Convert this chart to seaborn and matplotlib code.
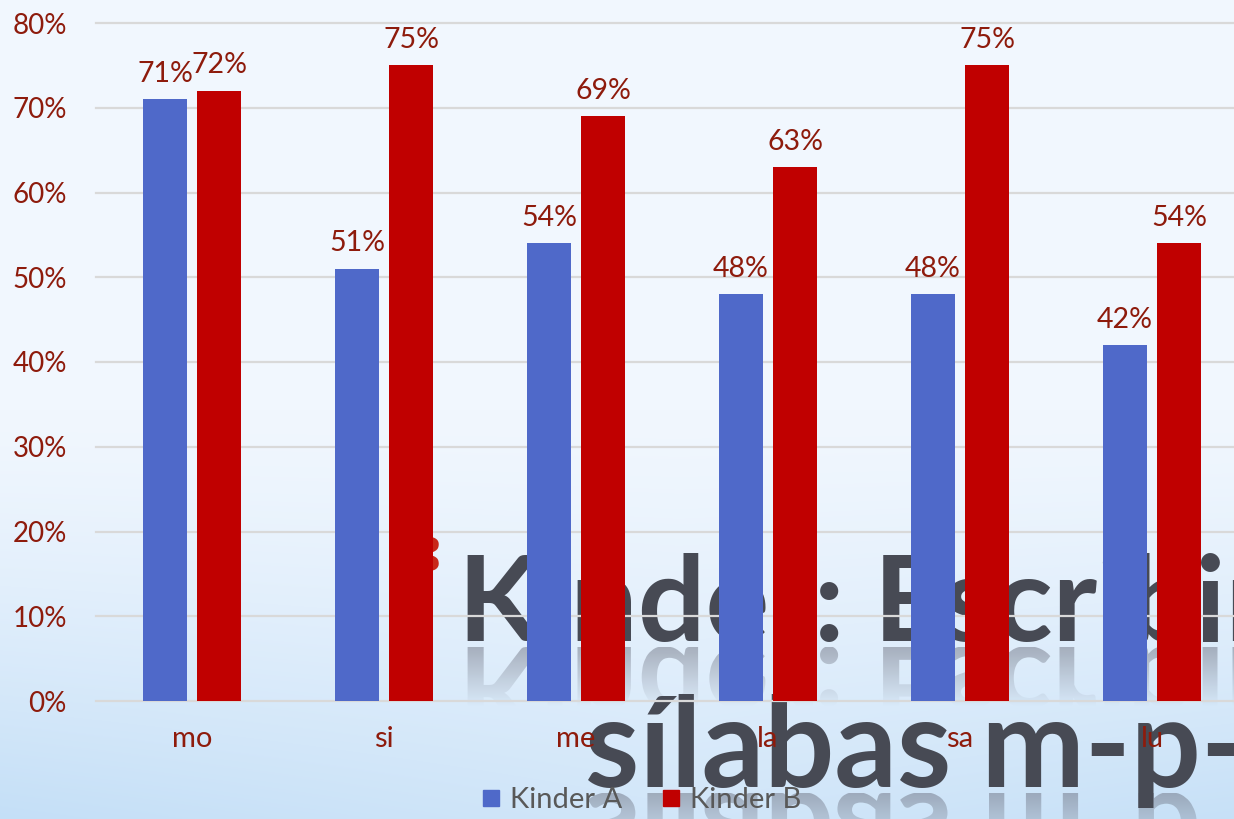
import numpy as np
import pandas as pd
import matplotlib
matplotlib.use('Agg')
import matplotlib.pyplot as plt
import seaborn as sns
from matplotlib.textpath import TextPath
from matplotlib.font_manager import FontProperties
from matplotlib.transforms import Affine2D
from matplotlib.lines import Line2D

# data
silabas = ['mo', 'si', 'me', 'la', 'sa', 'lu']
kinder_a = [71, 51, 54, 48, 48, 42]
kinder_b = [72, 75, 69, 63, 75, 54]
grupos = ['Kinder A', 'Kinder B']
yticks = [0, 10, 20, 30, 40, 50, 60, 70, 80]
titulo = ['Kinder: Escribir', 'sílabas m-p-s-l']

azul = '#4F69C9'
rojo = '#C00000'
granate = '#8E1B0C'
gris = '#595959'

plt.rcParams['font.family'] = ['Lato', 'DejaVu Sans']

df = pd.DataFrame({
    'silaba': silabas * 2,
    'valor': kinder_a + kinder_b,
    'grupo': [grupos[0]] * len(silabas) + [grupos[1]] * len(silabas),
})

W, H = 1234, 819
fig = plt.figure(figsize=(W / 100, H / 100), dpi=100)

# slide background (light blue gradient)
bg = fig.add_axes([0, 0, 1, 1])
yy, xx = np.mgrid[0:H, 0:W]
t = yy / H
s = xx / W
top = np.array([241, 247, 254]) / 255
bottom = np.array([196, 223, 247]) / 255
w = np.clip((t - 0.5) / 0.5, 0, 1) ** 1.3
w = w * (0.7 + 0.3 * np.abs(s - 0.55) / 0.55)
img = top * (1 - w[..., None]) + bottom * w[..., None]
bg.imshow(img, extent=(0, W, H, 0), aspect='auto', zorder=0)

# slide title behind the chart, with its reflection
tit_x = [458, 585]
tit_base = [641, 787]
tit_size = [86, 89]
for txt, x0, yb, fs in zip(titulo, tit_x, tit_base, tit_size):
    bg.text(x0, yb, txt, fontsize=fs, fontweight='bold', color='#474a54',
            ha='left', va='baseline', zorder=3)
    tp = TextPath((0, 0), txt, size=fs * 100 / 72,
                  prop=FontProperties(family='Lato', weight='bold'))
    path = Affine2D().translate(x0, yb + 6).transform_path(tp)
    grad = np.zeros((60, 1, 4))
    grad[..., :3] = (0.38, 0.39, 0.45)
    grad[:, 0, 3] = np.linspace(0.45, 0, 60)
    im = bg.imshow(grad, extent=(0, W, yb + 66, yb + 6), aspect='auto', zorder=2)
    im.set_clip_path(path, bg.transData)
bg.text(415, 560, '\u273D', color='#C8281A', fontsize=50, family='DejaVu Sans',
        ha='center', va='center', zorder=3)
bg.set_xlim(0, W)
bg.set_ylim(H, 0)
bg.axis('off')

# chart
ax = fig.add_axes([96 / W, 118 / H, 1152 / W, 678 / H])
ax.patch.set_alpha(0)
sns.barplot(data=df, x='silaba', y='valor', hue='grupo', palette=[azul, rojo],
            saturation=1, width=0.5625, gap=0.2, legend=False, ax=ax)
ax.set_xlim(-0.5, 5.5)
ax.set_ylim(0, 80)
ax.set_yticks(yticks)
ax.set_yticklabels([f'{v}%' for v in yticks])
ax.yaxis.grid(True, color='#d9d9d9', lw=1.6)
ax.set_axisbelow(True)
for gl in ax.get_ygridlines():
    gl.set_clip_on(False)
for sp in ax.spines.values():
    sp.set_visible(False)
ax.tick_params(length=0, colors=granate, labelsize=20)
ax.tick_params(axis='y', pad=21)
ax.tick_params(axis='x', pad=18, labelsize=21)
ax.set_xlabel('')
ax.set_ylabel('')

for cont in ax.containers:
    ax.bar_label(cont, labels=[f'{v:.0f}%' for v in cont.datavalues],
                 padding=9, color=granate, fontsize=20.5)

handles = [Line2D([], [], marker='s', ls='', color=c, markersize=12) for c in (azul, rojo)]
fig.legend(handles, grupos, loc='center', bbox_to_anchor=(641 / W, 1 - 800 / H),
           ncol=2, frameon=False, fontsize=21, labelcolor=gris,
           handlelength=0.7, handletextpad=0.3, columnspacing=1.3)

fig.savefig('out.png', dpi=100)
